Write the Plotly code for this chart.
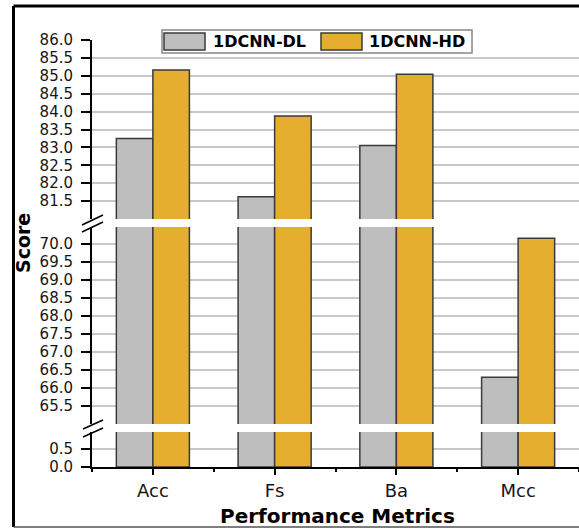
import plotly.graph_objects as go

# ---- data ----
categories = ["Acc", "Fs", "Ba", "Mcc"]
dl_values = [83.25, 81.62, 83.05, 66.30]
hd_values = [85.16, 83.88, 85.04, 70.16]
series_names = ["1DCNN-DL", "1DCNN-HD"]
top_ticks = [81.5, 82.0, 82.5, 83.0, 83.5, 84.0, 84.5, 85.0, 85.5, 86.0]
mid_ticks = [65.5, 66.0, 66.5, 67.0, 67.5, 68.0, 68.5, 69.0, 69.5, 70.0]
low_ticks = [0.0, 0.5]

# ---- layout constants (pixels) ----
W, H = 579, 529
ML, MR, MT, MB = 92, 0, 40, 62
PW = W - ML - MR
PH = H - MT - MB
FONT = "DejaVu Sans"

def px_x(x):
    return (x - ML) / PW

def px_y(y):
    return (H - MB - y) / PH

GRAY = "#BEBEBE"
ORANGE = "#E6AE2F"
EDGE = "#3a3a3a"

xpos = list(range(len(categories)))

fig = go.Figure()
for yax in ["y", "y2", "y3"]:
    fig.add_trace(go.Bar(x=xpos, y=dl_values, name=series_names[0], yaxis=yax,
                         marker=dict(color=GRAY, line=dict(color=EDGE, width=1.5)),
                         showlegend=False))
    fig.add_trace(go.Bar(x=xpos, y=hd_values, name=series_names[1], yaxis=yax,
                         marker=dict(color=ORANGE, line=dict(color=EDGE, width=1.5)),
                         showlegend=False))

yax_common = dict(
    showline=True, linecolor="black", linewidth=2,
    ticks="outside", ticklen=9, tickwidth=1.5, tickcolor="black",
    showgrid=True, gridcolor="#c8c8c8", gridwidth=1.5,
    zeroline=False, tickformat=".1f", tickmode="array",
    tickfont=dict(family=FONT, size=15, color="#151515"),
    anchor="x", ticklabelstandoff=5,
)

fig.update_layout(
    width=W, height=H,
    margin=dict(l=ML, r=MR, t=MT, b=MB),
    paper_bgcolor="white", plot_bgcolor="white",
    barmode="group", bargap=0.4, bargroupgap=0,
    showlegend=False,
    xaxis=dict(
        range=[-0.5, 3.5], tickmode="array", tickvals=xpos, ticktext=categories,
        showline=True, linecolor="black", linewidth=2,
        ticks="outside", ticklen=6, tickwidth=1.5, tickcolor="black",
        minor=dict(tickmode="array", tickvals=[-0.5, 0.5, 1.5, 2.5, 3.5],
                   ticks="outside", ticklen=3, tickwidth=1.5, tickcolor="black",
                   showgrid=False),
        showgrid=False, zeroline=False, anchor="y3",
        tickfont=dict(family=FONT, size=18, color="#151515"),
        ticklabelstandoff=0,
    ),
    yaxis=dict(domain=[px_y(219), 1.0], range=[81.0, 86.0], tickvals=top_ticks, **yax_common),
    yaxis2=dict(domain=[px_y(424), px_y(227)], range=[65.0, 70.47], tickvals=mid_ticks, **yax_common),
    yaxis3=dict(domain=[0.0, px_y(432)], range=[0.0, 0.97], tickvals=low_ticks, **yax_common),
)

shapes = []
# break marks
for (x0, y0, x1, y1) in [(82, 225, 103, 215), (82, 232, 103, 222),
                         (83, 429, 103, 420), (83, 437, 103, 428)]:
    shapes.append(dict(type="line", xref="paper", yref="paper",
                       x0=px_x(x0), y0=px_y(y0), x1=px_x(x1), y1=px_y(y1),
                       line=dict(color="black", width=1.5)))
# outer frame
shapes.append(dict(type="line", xref="paper", yref="paper",
                   x0=px_x(13.5), y0=px_y(6), x1=px_x(600), y1=px_y(6),
                   line=dict(color="black", width=3)))
shapes.append(dict(type="line", xref="paper", yref="paper",
                   x0=px_x(13.5), y0=px_y(6), x1=px_x(13.5), y1=px_y(527),
                   line=dict(color="black", width=3)))
shapes.append(dict(type="line", xref="paper", yref="paper",
                   x0=px_x(13.5), y0=px_y(527), x1=px_x(600), y1=px_y(527),
                   line=dict(color="#555555", width=1.5)))
# legend box and swatches
shapes.append(dict(type="rect", xref="paper", yref="paper",
                   x0=px_x(162), y0=px_y(53), x1=px_x(472), y1=px_y(30),
                   line=dict(color="#888888", width=1.5), fillcolor="white"))
shapes.append(dict(type="rect", xref="paper", yref="paper",
                   x0=px_x(164), y0=px_y(50), x1=px_x(205), y1=px_y(33),
                   line=dict(color=EDGE, width=1.5), fillcolor=GRAY))
shapes.append(dict(type="rect", xref="paper", yref="paper",
                   x0=px_x(321), y0=px_y(50), x1=px_x(362), y1=px_y(33),
                   line=dict(color=EDGE, width=1.5), fillcolor=ORANGE))
fig.update_layout(shapes=shapes)

annotations = [
    dict(text=series_names[0], xref="paper", yref="paper", x=px_x(211), y=px_y(41.5),
         xanchor="left", yanchor="middle", showarrow=False,
         font=dict(family=FONT, size=16, color="black", weight="bold")),
    dict(text=series_names[1], xref="paper", yref="paper", x=px_x(367), y=px_y(41.5),
         xanchor="left", yanchor="middle", showarrow=False,
         font=dict(family=FONT, size=16, color="black", weight="bold")),
    dict(text="Score", xref="paper", yref="paper", x=px_x(22.5), y=px_y(243.5),
         xanchor="center", yanchor="middle", textangle=-90, showarrow=False,
         font=dict(family=FONT, size=19, color="black", weight="bold")),
    dict(text="Performance Metrics", xref="paper", yref="paper", x=px_x(337), y=px_y(516),
         xanchor="center", yanchor="middle", showarrow=False,
         font=dict(family=FONT, size=20, color="black", weight="bold")),
]
fig.update_layout(annotations=annotations)

fig.write_html("out.html", config={"displayModeBar": False},
               post_script="document.body.style.margin='0';document.body.style.overflow='hidden';")
